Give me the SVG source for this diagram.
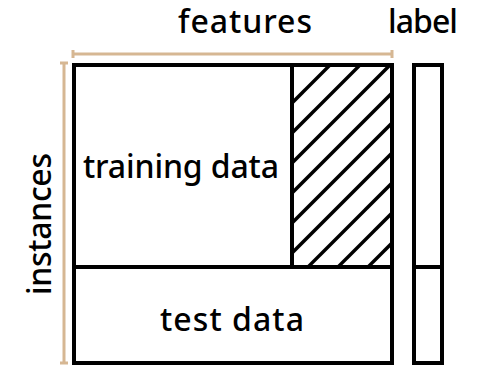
<svg xmlns="http://www.w3.org/2000/svg" width="485" height="367" viewBox="0 0 485 367">
  <style>
    .box { fill: #ffffff; stroke: #000000; stroke-width: 4; }
    .rule { fill: none; stroke: #000000; stroke-width: 4; }
    .hatch { fill: none; stroke: #000000; stroke-width: 3.4; }
    .dim { fill: none; stroke: #d6b793; stroke-width: 3; }
    .txt { font-family: "Comic Sans MS", "Noto Sans", "DejaVu Sans", sans-serif; font-size: 32px; font-weight: 500; fill: #000000; text-anchor: middle; }
  </style>
  <defs>
    <clipPath id="hatchClip">
      <rect x="292" y="65" width="100" height="202"/>
    </clipPath>
  </defs>
  <rect width="485" height="367" fill="#ffffff"/>

  <!-- dimension rules -->
  <g id="connectors">
    <path class="dim" d="M73 54 H392 M73 50 V58 M392 50 V58"/>
    <path class="dim" d="M64 63 V363 M60 63 H68 M60 363 H68"/>
  </g>

  <!-- data matrix -->
  <g id="matrix">
    <rect class="box" x="74" y="65" width="318" height="298"/>
  </g>

  <g id="hidden-features">
    <g clip-path="url(#hatchClip)" class="hatch">
      <line x1="395" y1="0" x2="195" y2="200"/>
      <line x1="425" y1="0" x2="225" y2="200"/>
      <line x1="455" y1="0" x2="255" y2="200"/>
      <line x1="485" y1="0" x2="185" y2="300"/>
      <line x1="515" y1="0" x2="215" y2="300"/>
      <line x1="545" y1="0" x2="245" y2="300"/>
      <line x1="575" y1="0" x2="275" y2="300"/>
      <line x1="605" y1="0" x2="305" y2="300"/>
      <line x1="635" y1="0" x2="335" y2="300"/>
    </g>
    <line class="rule" x1="292" y1="65" x2="292" y2="267"/>
  </g>

  <g id="training-data">
    <line class="rule" x1="74" y1="267" x2="392" y2="267"/>
    <text class="txt" x="181" y="178" textLength="196">training data</text>
  </g>

  <g id="test-data">
    <text class="txt" x="232" y="331" textLength="144">test data</text>
  </g>

  <g id="label-column">
    <rect class="box" x="414" y="65" width="28" height="298"/>
    <line class="rule" x1="414" y1="267" x2="442" y2="267"/>
  </g>

  <g id="axis-labels">
    <text class="txt" x="245" y="33" textLength="134">features</text>
    <text class="txt" x="423" y="33" textLength="70">label</text>
    <text class="txt" x="0" y="0" textLength="142" transform="translate(51 224) rotate(-90)">instances</text>
  </g>
</svg>
